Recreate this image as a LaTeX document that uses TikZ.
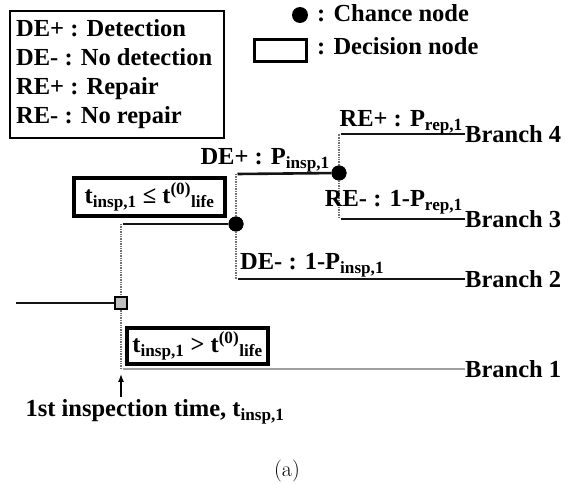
\documentclass[tikz,border=0pt]{standalone}
\usepackage{fontspec}
\newfontfamily\timesfont{Liberation Serif}
\usetikzlibrary{arrows.meta}
\definecolor{color_dtree_line}{HTML}{141414}
\definecolor{color_dtree_dots}{HTML}{707070}
\definecolor{color_dtree_nobranch}{HTML}{a0a0a0}
\definecolor{color_dtree_decision}{HTML}{c0c0c0}
\def\dtreelw{2.6pt}
\def\dtreenodesize{15pt}

\begin{document}
\begin{tikzpicture}[x=1pt,y=-1pt,
        lbl/.style={font=\timesfont\bfseries\fontsize{24.5}{28}\selectfont, inner sep=0pt},
        chance/.style={circle, fill=black, minimum size=\dtreenodesize, inner sep=0pt},
        decision/.style={draw=black, line width=2.4pt, fill=color_dtree_decision, minimum size=12pt, inner sep=0pt},
        cond/.style={lbl, draw=black, line width=4pt},
        branch/.style={color_dtree_line, line width=\dtreelw},
        dots/.style={color_dtree_dots, line width=1.4pt, densely dotted}]
            \useasboundingbox (0,0) rectangle (566,484);
            % legend
            \node[draw, line width=1.8pt, minimum width=214pt, minimum height=127pt, anchor=north west] (legend) at (9,10) {};
            \node[lbl, anchor=base west] (keyde1) at (16,37) {DE+ : Detection};
            \node[lbl, anchor=base west] (keyde0) at (16,66) {DE- : No detection};
            \node[lbl, anchor=base west] (keyre1) at (16,95) {RE+ : Repair};
            \node[lbl, anchor=base west] (keyre0) at (16,124) {RE- : No repair};
            \node[chance, minimum size=16pt] (keychance) at (300,15) {};
            \node[lbl, anchor=base west] (keychancetxt) at (317,22) {: Chance node};
            \node[draw, line width=3.5pt, minimum width=52pt, minimum height=22pt, inner sep=0pt] (keydec) at (280.5,50.5) {};
            \node[lbl, anchor=base west] (keydectxt) at (317,55) {: Decision node};
            %
            % tree nodes
            \node[decision] (dec) at (121,303) {};
            \node[chance] (det) at (236,224) {};
            \node[chance] (rep) at (339,173) {};
            \coordinate (start) at (16,303);
            \coordinate (dtop) at (121,224);
            \coordinate (dbot) at (121,369);
            \coordinate (ptop) at (236,174);
            \coordinate (pbot) at (236,279);
            \coordinate (rtop) at (339,134);
            \coordinate (rbot) at (339,219);
            \coordinate (b4) at (465,134);
            \coordinate (b3) at (465,219);
            \coordinate (b2) at (465,279);
            \coordinate (b1) at (465,369);
            % dotted time axes
            \draw[dots] (dtop) -- (dec.north);
            \draw[dots] (dec.south) -- (dbot);
            \draw[dots] (det) -- (ptop);
            \draw[dots] (det) -- (pbot);
            \draw[dots] (rep) -- (rtop);
            \draw[dots] (rep) -- (rbot);
            % branches
            \draw[branch] (start) -- (dec.west);
            \draw[branch] ([xshift=1.5pt]dtop) -- (det);
            \draw[branch] ([xshift=1.5pt]ptop) -- (rep);
            \draw[branch] ([xshift=1.5pt]pbot) -- (b2);
            \draw[branch] ([xshift=1.5pt]rtop) -- (b4);
            \draw[branch] ([xshift=1.5pt]rbot) -- (b3);
            \draw[color_dtree_nobranch, line width=\dtreelw] ([xshift=1.5pt]dbot) -- (b1);
            \node[chance] at (det) {};
            \node[chance] at (rep) {};
            % branch ends
            \node[lbl, anchor=west] (lb4) at (b4) {Branch 4};
            \node[lbl, anchor=west] (lb3) at (b3) {Branch 3};
            \node[lbl, anchor=west] (lb2) at (b2) {Branch 2};
            \node[lbl, anchor=west] (lb1) at (b1) {Branch 1};
            % probabilities
            \node[lbl, anchor=base east] (pre1) at (463,127) {RE+ : P\textsubscript{rep,1}};
            \node[lbl, anchor=base east] (pre0) at (463,207) {RE- : 1-P\textsubscript{rep,1}};
            \node[lbl, anchor=base east] (pde1) at (330,165) {DE+ : P\textsubscript{insp,1}};
            \node[lbl, anchor=base west] (pde0) at (240,270) {DE- : 1-P\textsubscript{insp,1}};
            % conditions
            \node[cond, minimum width=151pt, minimum height=38pt] (condle) at (149.5,197) {t\textsubscript{insp,1} ≤ t\textsuperscript{(0)}\textsubscript{life}};
            \node[cond, minimum width=141pt, minimum height=36pt] (condgt) at (197.5,346) {t\textsubscript{insp,1} > t\textsuperscript{(0)}\textsubscript{life}};
            % inspection time
            \node[lbl, anchor=base] (insp) at (155,417) {1st inspection time, t\textsubscript{insp,1}};
            \coordinate (arrtail) at (121,397);
            \coordinate (arrtip) at (121,374);
            \draw[-{Latex[length=8pt,width=6pt]}, line width=1.4pt] (arrtail) -- (arrtip);
            \node[font=\fontsize{22}{26}\selectfont, anchor=base] (caption) at (287,476) {(a)};
    \end{tikzpicture}
\end{document}
